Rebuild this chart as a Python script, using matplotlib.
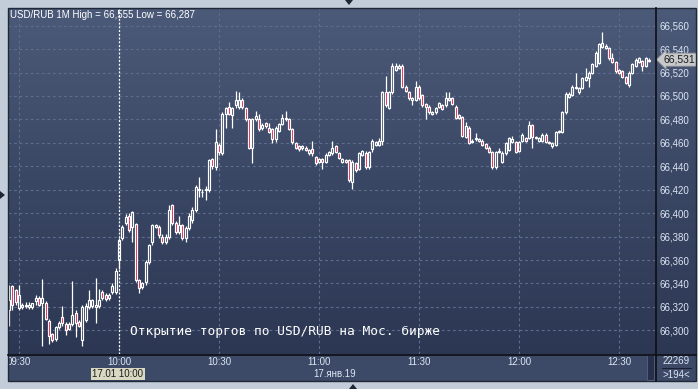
import numpy as np
import pandas as pd
import matplotlib
matplotlib.use("Agg")
import matplotlib.pyplot as plt
import matplotlib.dates as mdates
from matplotlib.colors import LinearSegmentedColormap
from matplotlib.patches import Rectangle, Polygon
from matplotlib.lines import Line2D

# ---------------- data (USD/RUB, 1-minute candles, 17.01.2019) ----------------
opens = [66.317, 66.338, 66.334, 66.319, 66.320, 66.321, 66.320, 66.320, 66.325, 66.328,
         66.323, 66.323, 66.308, 66.297, 66.293, 66.303, 66.311, 66.305, 66.301, 66.305,
         66.315, 66.307, 66.292, 66.309, 66.320, 66.321, 66.320, 66.321, 66.333, 66.330,
         66.328, 66.333, 66.333, 66.360, 66.379, 66.392, 66.398, 66.388, 66.391, 66.343,
         66.337, 66.341, 66.358, 66.375, 66.388, 66.388, 66.380, 66.375, 66.380, 66.407,
         66.392, 66.384, 66.390, 66.379, 66.387, 66.394, 66.403, 66.420, 66.418, 66.420,
         66.420, 66.446, 66.439, 66.458, 66.451, 66.485, 66.491, 66.484, 66.492, 66.491,
         66.497, 66.490, 66.480, 66.456, 66.480, 66.480, 66.473, 66.477, 66.473, 66.472,
         66.463, 66.470, 66.476, 66.480, 66.480, 66.472, 66.460, 66.457, 66.456, 66.456,
         66.451, 66.455, 66.448, 66.444, 66.446, 66.444, 66.450, 66.451, 66.457, 66.451,
         66.444, 66.445, 66.445, 66.427, 66.443, 66.438, 66.450, 66.451, 66.439, 66.455,
         66.458, 66.458, 66.462, 66.503, 66.490, 66.503, 66.522, 66.524, 66.526, 66.508,
         66.503, 66.497, 66.497, 66.508, 66.501, 66.493, 66.491, 66.485, 66.486, 66.491,
         66.492, 66.492, 66.497, 66.498, 66.491, 66.481, 66.482, 66.465, 66.473, 66.461,
         66.463, 66.462, 66.462, 66.459, 66.456, 66.452, 66.439, 66.452, 66.444, 66.451,
         66.454, 66.461, 66.461, 66.453, 66.462, 66.464, 66.464, 66.475, 66.464, 66.462,
         66.462, 66.467, 66.460, 66.457, 66.458, 66.469, 66.469, 66.486, 66.499, 66.501,
         66.508, 66.503, 66.507, 66.514, 66.515, 66.520, 66.526, 66.528, 66.542, 66.541,
         66.541, 66.532, 66.529, 66.522, 66.521, 66.516, 66.509, 66.520, 66.526, 66.529,
         66.530, 66.526, 66.530]
highs = [66.339, 66.339, 66.335, 66.339, 66.323, 66.324, 66.324, 66.323, 66.330, 66.329,
         66.344, 66.325, 66.310, 66.298, 66.304, 66.308, 66.321, 66.307, 66.307, 66.342,
         66.317, 66.309, 66.322, 66.323, 66.334, 66.327, 66.345, 66.335, 66.334, 66.332,
         66.332, 66.340, 66.353, 66.379, 66.390, 66.399, 66.400, 66.402, 66.392, 66.344,
         66.341, 66.360, 66.374, 66.391, 66.391, 66.390, 66.382, 66.382, 66.407, 66.408,
         66.393, 66.398, 66.391, 66.389, 66.400, 66.405, 66.424, 66.431, 66.421, 66.423,
         66.446, 66.447, 66.472, 66.460, 66.486, 66.491, 66.495, 66.491, 66.504, 66.503,
         66.498, 66.491, 66.481, 66.481, 66.487, 66.485, 66.477, 66.478, 66.477, 66.473,
         66.474, 66.477, 66.485, 66.487, 66.481, 66.473, 66.461, 66.458, 66.458, 66.457,
         66.455, 66.462, 66.449, 66.447, 66.447, 66.451, 66.453, 66.462, 66.458, 66.452,
         66.447, 66.446, 66.446, 66.445, 66.444, 66.452, 66.454, 66.453, 66.453, 66.463,
         66.462, 66.464, 66.504, 66.517, 66.504, 66.528, 66.528, 66.527, 66.527, 66.509,
         66.504, 66.499, 66.513, 66.509, 66.502, 66.494, 66.492, 66.487, 66.491, 66.495,
         66.493, 66.503, 66.503, 66.499, 66.492, 66.485, 66.483, 66.478, 66.474, 66.463,
         66.468, 66.464, 66.463, 66.460, 66.457, 66.453, 66.453, 66.456, 66.453, 66.461,
         66.465, 66.466, 66.462, 66.462, 66.468, 66.465, 66.479, 66.476, 66.466, 66.465,
         66.468, 66.468, 66.462, 66.461, 66.470, 66.471, 66.487, 66.503, 66.503, 66.509,
         66.520, 66.508, 66.516, 66.524, 66.521, 66.528, 66.538, 66.545, 66.555, 66.544,
         66.542, 66.537, 66.530, 66.523, 66.522, 66.517, 66.521, 66.528, 66.532, 66.533,
         66.531, 66.533, 66.532]
lows = [66.304, 66.317, 66.322, 66.317, 66.318, 66.319, 66.318, 66.318, 66.322, 66.321,
        66.287, 66.309, 66.288, 66.290, 66.291, 66.301, 66.304, 66.296, 66.300, 66.304,
        66.294, 66.303, 66.287, 66.307, 66.318, 66.319, 66.306, 66.319, 66.326, 66.325,
        66.326, 66.331, 66.331, 66.352, 66.377, 66.390, 66.384, 66.375, 66.341, 66.332,
        66.335, 66.339, 66.357, 66.373, 66.387, 66.379, 66.374, 66.374, 66.378, 66.390,
        66.382, 66.382, 66.377, 66.375, 66.386, 66.392, 66.401, 66.414, 66.414, 66.411,
        66.418, 66.438, 66.437, 66.450, 66.450, 66.473, 66.484, 66.473, 66.490, 66.489,
        66.489, 66.479, 66.455, 66.443, 66.479, 66.470, 66.471, 66.473, 66.468, 66.460,
        66.461, 66.469, 66.475, 66.479, 66.471, 66.459, 66.455, 66.453, 66.454, 66.453,
        66.450, 66.449, 66.441, 66.443, 66.438, 66.443, 66.449, 66.450, 66.451, 66.446,
        66.443, 66.443, 66.427, 66.421, 66.435, 66.437, 66.449, 66.438, 66.438, 66.452,
        66.457, 66.457, 66.458, 66.491, 66.489, 66.502, 66.521, 66.523, 66.507, 66.503,
        66.497, 66.492, 66.496, 66.497, 66.491, 66.480, 66.485, 66.484, 66.485, 66.490,
        66.488, 66.491, 66.496, 66.492, 66.480, 66.480, 66.465, 66.464, 66.459, 66.460,
        66.462, 66.461, 66.457, 66.455, 66.451, 66.438, 66.438, 66.451, 66.443, 66.450,
        66.453, 66.460, 66.451, 66.452, 66.461, 66.461, 66.463, 66.456, 66.463, 66.461,
        66.461, 66.460, 66.459, 66.456, 66.457, 66.468, 66.468, 66.485, 66.498, 66.500,
        66.506, 66.502, 66.506, 66.513, 66.508, 66.519, 66.525, 66.527, 66.541, 66.540,
        66.531, 66.528, 66.520, 66.519, 66.515, 66.510, 66.508, 66.519, 66.525, 66.528,
        66.521, 66.525, 66.529]
closes = [66.326, 66.322, 66.324, 66.330, 66.322, 66.322, 66.322, 66.323, 66.328, 66.322,
          66.328, 66.310, 66.295, 66.292, 66.303, 66.306, 66.306, 66.300, 66.305, 66.313,
          66.306, 66.304, 66.320, 66.321, 66.326, 66.326, 66.322, 66.326, 66.328, 66.327,
          66.330, 66.338, 66.351, 66.377, 66.388, 66.397, 66.386, 66.401, 66.343, 66.336,
          66.340, 66.358, 66.373, 66.390, 66.390, 66.381, 66.375, 66.380, 66.403, 66.392,
          66.384, 66.390, 66.379, 66.387, 66.398, 66.403, 66.422, 66.421, 66.418, 66.421,
          66.445, 66.440, 66.461, 66.452, 66.485, 66.490, 66.485, 66.490, 66.497, 66.497,
          66.491, 66.480, 66.456, 66.480, 66.483, 66.472, 66.475, 66.474, 66.469, 66.463,
          66.473, 66.476, 66.481, 66.481, 66.472, 66.461, 66.456, 66.455, 66.457, 66.454,
          66.454, 66.451, 66.443, 66.446, 66.444, 66.450, 66.452, 66.456, 66.452, 66.447,
          66.446, 66.444, 66.428, 66.444, 66.437, 66.451, 66.453, 66.439, 66.452, 66.462,
          66.461, 66.462, 66.503, 66.492, 66.503, 66.526, 66.526, 66.526, 66.508, 66.504,
          66.498, 66.498, 66.508, 66.498, 66.492, 66.491, 66.486, 66.486, 66.490, 66.494,
          66.489, 66.498, 66.498, 66.493, 66.481, 66.484, 66.466, 66.474, 66.460, 66.462,
          66.464, 66.463, 66.458, 66.456, 66.452, 66.439, 66.452, 66.453, 66.451, 66.460,
          66.464, 66.463, 66.452, 66.461, 66.467, 66.462, 66.475, 66.465, 66.465, 66.464,
          66.467, 66.461, 66.461, 66.460, 66.469, 66.470, 66.486, 66.502, 66.502, 66.508,
          66.507, 66.507, 66.515, 66.516, 66.520, 66.527, 66.537, 66.544, 66.545, 66.543,
          66.532, 66.529, 66.521, 66.520, 66.516, 66.511, 66.520, 66.527, 66.531, 66.532,
          66.526, 66.532, 66.531]

start_time = "2019-01-17 09:27"
price_ticks = [66.30, 66.32, 66.34, 66.36, 66.38, 66.40, 66.42, 66.44, 66.46,
               66.48, 66.50, 66.52, 66.54, 66.56]
time_ticks = ["09:30", "10:00", "10:30", "11:00", "11:30", "12:00", "12:30"]
title = "USD/RUB 1M High = 66,555 Low = 66,287"
note = "Открытие торгов по USD/RUB на Мос. бирже"
last_price = 66.531
cursor_time = "10:00"
cursor_label = "17.01 10:00"
date_label = "17.янв.19"
volume_label = "22269"
bars_label = ">194<"

# ---------------- figure ----------------
W, H = 698, 389
fig = plt.figure(figsize=(W / 100, H / 100), dpi=100)
fig.patch.set_facecolor("#c3cdd9")

def fx(px):
    return px / W

def fy(py):
    return 1 - py / H

PL, PR, PT, PB = 8, 655, 8, 354   # plot area (pixels)
RR = 696                          # right edge of price column
SB = 381                          # bottom of time strip

grad = LinearSegmentedColormap.from_list("g", ["#4c5a79", "#3a4764", "#2c3753"])

# background gradient (plot + price column)
bg = fig.add_axes([fx(PL), fy(PB), fx(RR - PL), (PB - PT) / H])
bg.imshow(np.linspace(0, 1, 256).reshape(-1, 1), cmap=grad, aspect="auto",
          extent=[0, 1, 0, 1], origin="upper")
bg.set_axis_off()

# time strip
strip = fig.add_axes([fx(PL), fy(SB), fx(RR - PL), (SB - PB) / H])
strip.set_facecolor("#3d4a67")
strip.set_xticks([]); strip.set_yticks([])
for s in strip.spines.values():
    s.set_visible(False)

# main axes
ax = fig.add_axes([fx(PL), fy(PB), fx(PR - PL), (PB - PT) / H])
ax.patch.set_alpha(0)

times = pd.date_range(start_time, periods=len(opens), freq="min")
x = mdates.date2num(times)
minute = 1.0 / 1440
t930 = mdates.date2num(pd.Timestamp("2019-01-17 09:30"))

o = np.array(opens); h = np.array(highs); l = np.array(lows); c = np.array(closes)
top = np.maximum(o, c); bot = np.minimum(o, c)
up = c >= o

ax.vlines(x, top, h, color="white", lw=0.9, zorder=3)
ax.vlines(x, l, bot, color="white", lw=0.9, zorder=3)
ax.bar(x[up], (top - bot)[up], bottom=bot[up], width=0.58 * minute,
       facecolor="none", edgecolor="white", linewidth=0.85, zorder=4)
ax.bar(x[~up], (top - bot)[~up], bottom=bot[~up], width=0.58 * minute,
       facecolor="#e8123c", edgecolor="white", linewidth=0.85, zorder=4)

ax.set_xlim(t930 - 3.3 * minute, t930 + 190.8 * minute)
ax.set_ylim(66.2798, 66.5751)

tick_x = [mdates.date2num(pd.Timestamp("2019-01-17 " + t)) for t in time_ticks]
ax.set_xticks(tick_x)
ax.set_xticklabels(time_ticks)
ax.set_yticks(price_ticks)
ax.set_yticklabels([f"{v:.3f}".replace(".", ",") for v in price_ticks])
ax.yaxis.tick_right()
ax.tick_params(axis="both", length=0, labelsize=7, labelcolor="#dbe5f3")
ax.tick_params(axis="y", pad=3)
ax.tick_params(axis="x", pad=2.5)
for lab in ax.get_xticklabels() + ax.get_yticklabels():
    lab.set_family("Liberation Sans")
ax.grid(True, color="#5d6d8c", linestyle=(0, (2.5, 2.5)), linewidth=0.8, zorder=1)
for s in ax.spines.values():
    s.set_visible(False)

# cursor line at 10:00
cx = mdates.date2num(pd.Timestamp("2019-01-17 " + cursor_time))
ax.axvline(cx, color="white", linestyle=(0, (1.5, 1.5)), linewidth=0.9, zorder=2)

# title and note
fig.text(fx(10), fy(15), title, color="white", fontsize=7, va="center", ha="left",
         family="Liberation Sans")
fig.text(fx(130), fy(332), note, color="white", fontsize=9.3, va="center", ha="left",
         family="DejaVu Sans Mono")

# last price tag
ax.annotate(f"{last_price:.3f}".replace(".", ","), xy=(1.0, last_price),
            xycoords=("axes fraction", "data"), xytext=(6, 0),
            textcoords="offset points", va="center", ha="left", fontsize=7.5,
            color="#1a1a1a", family="Liberation Sans",
            bbox=dict(boxstyle="larrow,pad=0.15", fc="#c8c9cb", ec="#8a8d92", lw=0.6),
            annotation_clip=False, zorder=10)

# frame lines
fig.add_artist(Line2D([fx(PR + 0.5), fx(PR + 0.5)], [fy(PT), fy(SB)], color="#0d0f14", lw=1.2))
fig.add_artist(Line2D([fx(PL), fx(RR)], [fy(PB + 0.5), fy(PB + 0.5)], color="#0d0f14", lw=1.2))
fig.add_artist(Rectangle((fx(PL), fy(SB)), fx(RR - PL), (SB - PT) / H, fill=False,
                         ec="#202838", lw=1.0))

# cursor time label
fig.text(fx(118), fy(374), cursor_label, fontsize=7, color="#1c1c1c", ha="center",
         va="center", family="Liberation Sans",
         bbox=dict(boxstyle="square,pad=0.12", fc="#d9d9c3", ec="none"))
fig.text(fx(335), fy(374), date_label, fontsize=7, color="#dbe5f3", ha="center",
         va="center", family="Liberation Sans")

# bottom-right counters
fig.text(fx(676), fy(361), volume_label, fontsize=7, color="#dbe5f3", ha="center",
         va="center", family="Liberation Sans")
fig.add_artist(Line2D([fx(662), fx(691)], [fy(368), fy(368)], color="#1a2030", lw=0.8))
fig.text(fx(676), fy(374.5), bars_label, fontsize=7, color="#dbe5f3", ha="center",
         va="center", family="Liberation Sans")

# scrollbar stub
fig.add_artist(Rectangle((fx(647), fy(380)), fx(7), 25 / H, fc="#27304a", ec="#55627e", lw=0.6))

# small navigation triangles
fig.add_artist(Polygon([[fx(345), fy(0)], [fx(353), fy(0)], [fx(349), fy(5)]], closed=True,
                       fc="#1e2533", ec="none"))
fig.add_artist(Polygon([[fx(0), fy(191)], [fx(0), fy(199)], [fx(5), fy(195)]], closed=True,
                       fc="#1e2533", ec="none"))
fig.add_artist(Polygon([[fx(349), fy(389)], [fx(357), fy(389)], [fx(353), fy(384)]], closed=True,
                       fc="#1e2533", ec="none"))

fig.savefig("out.png", dpi=100, facecolor=fig.get_facecolor())
